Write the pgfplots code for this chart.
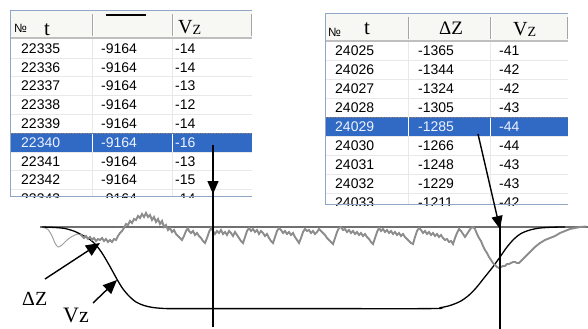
\documentclass[border=0pt]{standalone}
\usepackage{pgfplots}
\pgfplotsset{compat=1.18}
\usepackage{fontspec}
\setmainfont{Liberation Serif}
\setsansfont{Liberation Sans}
\usetikzlibrary{arrows.meta}
\definecolor{selblue}{HTML}{316AC5}
\definecolor{bordr}{HTML}{8FA6C4}
\definecolor{gridc}{HTML}{E8E8E8}
\definecolor{hdrsep}{HTML}{A6A6A6}
\definecolor{hdrbg}{HTML}{F7F7F4}
\definecolor{curvegray}{HTML}{8C8C8C}
\definecolor{thingray}{HTML}{A0A0A0}
\definecolor{basegray}{HTML}{707070}
\definecolor{seltext}{HTML}{EEF3FF}
\newcommand\tf{\sffamily\fontsize{14bp}{16bp}\selectfont}
\begin{document}
\begin{tikzpicture}
\path[use as bounding box] (0,0) rectangle (588bp,-329bp);
\begin{axis}[at={(0,0)}, anchor=north west, scale only axis,
  width=588bp, height=329bp, xmin=0, xmax=588, ymin=0, ymax=329,
  y dir=reverse, hide axis, clip=false]
% baseline
\addplot[basegray, line width=1.6bp] coordinates {(40,227) (588,227)};
% thin grey curve at left
\addplot[thingray, line width=1bp, smooth] coordinates {
(42,227) (48,229.5) (52,236) (55,243) (58,247) (62,245) (67,240) (72,236.5) (78,234) (84,236)};
% black Vz curve
\addplot[black, line width=1.3bp, smooth] coordinates {
(42,227) (55,227.5) (65,228.5) (75,231.5) (83,235.5) (90,239.5) (96,245) (102,253)
(108,263) (113,272) (118,281) (123,289) (129,296) (136,302) (144,305.5) (153,307.5)
(165,308.5) (180,308.6) (300,308.6) (430,308.6) (440,307.7) (450,305.5) (460,301.5)
(468,296) (476,288) (484,278) (492,268) (500,257) (507,247) (514,239) (521,233.5)
(530,230) (540,228) (553,227.2) (565,227)};
% noisy grey Delta Z curve
\addplot[curvegray, line width=1.9bp] coordinates {
(80,234)(82,236)(84,238)(86,236)(88,239)(90,237)(92,240)(94,238)(96,241)(98,239)
(100,240)(102,238)(104,241)(106,239)(108,242)(110,240)(112,242)(114,239)(116,240)(118,236)
(120,233)(122,231)(124,228)(126,224)(128,225)(130,221)(132,223)(134,219)(136,220)(138,216)
(140,218)(142,214)(144,217)(146,213)(148,217)(150,215)(152,220)(154,217)(156,222)(158,219)
(160,224)(162,221)(164,227)(166,225)(168,230)(170,228)(172,232)(174,230)(176,234)(178,236)
(180,238)(182,240)(184,236)(186,231)(188,228)(189,231)(191,233)(193,231)(195,235)(197,233)
(199,236)(201,238)(203,241)(205,243)(207,238)(209,232)(211,228)(213,231)(215,234)(217,231)
(219,233)(221,230)(223,234)(225,232)(227,235)(229,231)(231,233)(233,236)(235,232)(237,235)
(239,238)(241,241)(243,243)(245,237)(247,231)(249,228)(251,231)(253,229)(255,232)(257,230)
(259,234)(261,231)(263,233)(265,236)(267,234)(269,238)(271,241)(273,243)(275,237)(277,231)
(279,228)(281,230)(283,233)(285,231)(287,234)(289,232)(291,235)(293,233)(295,237)(297,240)
(299,243)(301,238)(303,232)(305,229)(307,231)(309,230)(311,233)(313,231)(315,234)(317,232)
(319,229)(321,231)(323,233)(325,235)(327,238)(329,240)(331,242)(333,244)(335,238)(337,232)
(339,228)(341,227)(343,230)(345,229)(347,232)(349,230)(351,233)(353,231)(355,234)(357,232)
(359,235)(361,233)(363,236)(365,234)(367,237)(369,239)(371,242)(373,244)(375,238)(377,232)
(379,228)(381,231)(383,229)(385,232)(387,230)(389,233)(391,231)(393,234)(395,232)(397,235)
(399,233)(401,236)(403,234)(405,237)(407,239)(409,241)(411,243)(413,244)(415,237)(417,231)
(419,228)(421,230)(423,233)(425,231)(427,234)(429,232)(431,235)(433,233)(435,236)(437,234)
(439,237)(441,235)(443,238)(445,240)(447,239)(449,242)(451,241)(453,244)(455,238)(457,233)
(459,229)(461,231)(463,234)(465,237)(467,234)(469,231)(471,228)(473,227)(475,229)(477,234)
(479,238)(481,241)(483,246)(485,250)(487,253)(489,257)(491,260)(493,263)(495,265)(497,267)
(499,268)(501,267)(503,266)(505,266)(507,264)(509,264)(511,263)(513,262)(515,262)(517,263)
(519,263)(521,261)(525,257)(530,252)(535,247)(540,243)(545,240)(550,238)(555,236)(560,233)
(565,231)(570,229)(575,228)(580,227)(586,226.5)};
\end{axis}
\begin{scope}[x=1bp,y=-1bp]
%================ left table
\begin{scope}
\clip (10,10) rectangle (252,197);
\fill[white] (10,10) rectangle (252,197);
\fill[hdrbg] (10,10) rectangle (252,38.5);
\foreach \i in {1,...,8} {\pgfmathsetmacro\yy{39.1+18.8*\i}
  \draw[gridc, line width=0.8bp] (11,\yy) -- (252,\yy);}
\draw[gridc, line width=0.8bp] (92,39) -- (92,197) (172,39) -- (172,197);
\fill[selblue] (11,133.1) rectangle (252,151.9);
\draw[white, line width=1bp] (92,133.1) -- (92,151.9) (172,133.1) -- (172,151.9);
\draw[gray, densely dotted, line width=0.6bp] (11,133.3) -- (252,133.3);
\draw[hdrsep, line width=1bp] (92,14) -- (92,36) (172,14) -- (172,36) (251.5,14) -- (251.5,36);
\draw[white, line width=0.8bp] (93.2,14) -- (93.2,36) (173.2,14) -- (173.2,36);
\draw[black!25, line width=1.6bp] (10,38) -- (252,38);
\foreach \a/\b/\c/\cl [count=\i from 0] in {22335/-9164/-14/black, 22336/-9164/-14/black,
  22337/-9164/-13/black, 22338/-9164/-12/black, 22339/-9164/-14/black,
  22340/-9164/-16/seltext, 22341/-9164/-13/black, 22342/-9164/-15/black,
  22343/-9164/-14/black} {
  \pgfmathsetmacro\yy{48.5+18.8*\i}
  \node[anchor=west, inner sep=0, text=\cl] at (21,\yy) {\tf\a};
  \node[anchor=west, inner sep=0, text=\cl] at (101,\yy) {\tf\b};
  \node[anchor=west, inner sep=0, text=\cl] at (175,\yy) {\tf\c};
}
\node[anchor=base west, inner sep=0] at (14,32) {\sffamily\fontsize{12bp}{12bp}\selectfont №};
\node[anchor=base west, inner sep=0] at (44,35) {\fontsize{21bp}{21bp}\selectfont t};
\draw[black, line width=2bp] (106,15) -- (146,15);
\node[anchor=base west, inner sep=0] at (178,33) {\fontsize{20bp}{20bp}\selectfont V\raisebox{-1bp}{\fontsize{14bp}{14bp}\selectfont Z}};
\end{scope}
\draw[bordr, line width=1bp] (252,10.5) -- (10.5,10.5) -- (10.5,196.5) -- (252,196.5);
%================ right table
\begin{scope}
\clip (325,13) rectangle (568,205);
\fill[white] (325,13) rectangle (568,205);
\fill[hdrbg] (325,13) rectangle (568,41);
\foreach \i in {1,...,8} {\pgfmathsetmacro\yy{41+19*\i}
  \draw[gridc, line width=0.8bp] (326,\yy) -- (568,\yy);}
\draw[gridc, line width=0.8bp] (408,41) -- (408,205) (490,41) -- (490,205);
\fill[selblue] (326,117) rectangle (568,136);
\draw[white, line width=1bp] (408,117) -- (408,136) (490,117) -- (490,136);
\draw[gray, densely dotted, line width=0.6bp] (326,117.2) -- (568,117.2);
\draw[hdrsep, line width=1bp] (408,17) -- (408,39) (490,17) -- (490,39) (567.5,17) -- (567.5,39);
\draw[white, line width=0.8bp] (409.2,17) -- (409.2,39) (491.2,17) -- (491.2,39);
\draw[black!25, line width=1.6bp] (325,41) -- (568,41);
\foreach \a/\b/\c/\cl [count=\i from 0] in {24025/-1365/-41/black, 24026/-1344/-42/black,
  24027/-1324/-42/black, 24028/-1305/-43/black, 24029/-1285/-44/seltext,
  24030/-1266/-44/black, 24031/-1248/-43/black, 24032/-1229/-43/black,
  24033/-1211/-42/black} {
  \pgfmathsetmacro\yy{50.5+19*\i}
  \node[anchor=west, inner sep=0, text=\cl] at (335,\yy) {\tf\a};
  \node[anchor=west, inner sep=0, text=\cl] at (418,\yy) {\tf\b};
  \node[anchor=west, inner sep=0, text=\cl] at (499,\yy) {\tf\c};
}
\node[anchor=base west, inner sep=0] at (328,36) {\sffamily\fontsize{12bp}{12bp}\selectfont №};
\node[anchor=base west, inner sep=0] at (364,34) {\fontsize{21bp}{21bp}\selectfont t};
\node[anchor=base west, inner sep=0] at (439,34) {\fontsize{19bp}{19bp}\selectfont ΔZ};
\node[anchor=base west, inner sep=0] at (513,35) {\fontsize{20bp}{20bp}\selectfont V\raisebox{-1bp}{\fontsize{14bp}{14bp}\selectfont Z}};
\end{scope}
\draw[bordr, line width=1bp] (568,13.5) -- (325.5,13.5) -- (325.5,204.5) -- (568,204.5);
%================ arrows
\draw[black, line width=1.4bp, -{Triangle[length=13bp,width=11bp]}] (213,145) -- (213,194);
\draw[black, line width=1.4bp] (213,190) -- (213,327);
\draw[black, line width=1.4bp, -{Triangle[length=13bp,width=11bp]}] (478,134) -- (500,229);
\draw[black, line width=1.4bp] (500,225) -- (500,329);
\draw[black, line width=1.4bp, -{Triangle[length=14bp,width=12bp]}] (45,279) -- (100,243);
\draw[black, line width=1.4bp, -{Triangle[length=14bp,width=12bp]}] (93,303) -- (117,280);
%================ labels
\node[anchor=base west, inner sep=0] at (22,305) {\fontsize{20bp}{20bp}\selectfont ΔZ};
\node[anchor=base west, inner sep=0] at (63,322) {\fontsize{22bp}{22bp}\selectfont Vz};
\end{scope}
\end{tikzpicture}
\end{document}
